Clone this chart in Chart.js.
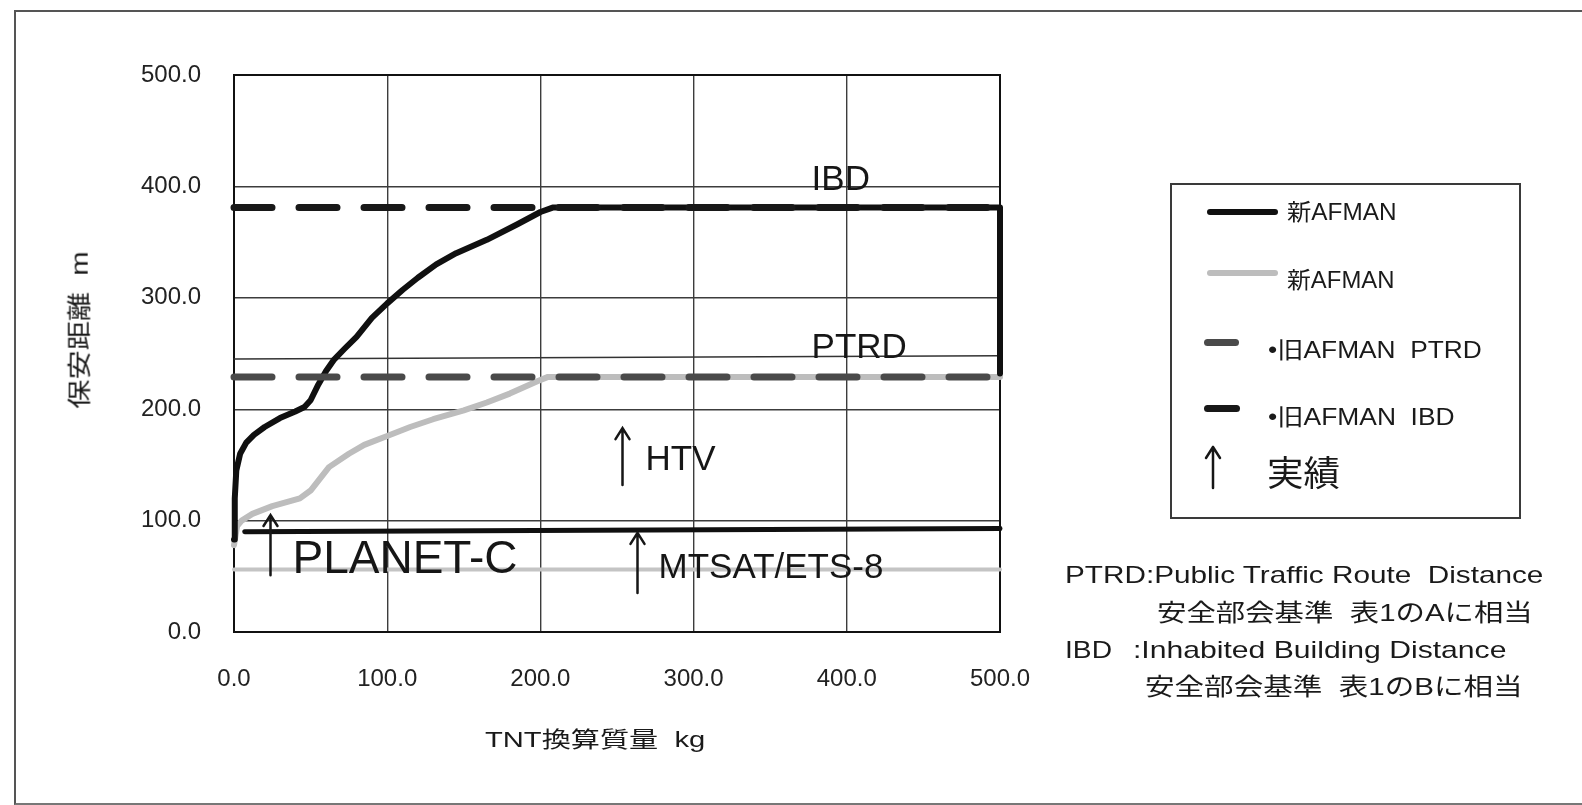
<!DOCTYPE html>
<html lang="ja">
<head>
<meta charset="utf-8">
<title>保安距離 と TNT換算質量</title>
<script src="https://cdn.jsdelivr.net/npm/chart.js@4.4.1/dist/chart.umd.min.js"></script>
<style>
  html, body { margin: 0; padding: 0; background: #ffffff; }
  #page {
    position: relative; width: 1582px; height: 805px; overflow: hidden;
    font-family: "Liberation Sans", "Noto Sans CJK JP", sans-serif; color: #1a1a1a;
  }
  #frame {
    position: absolute; left: 14px; top: 10px; width: 1600px; height: 791px;
    border-left: 2px solid #555; border-top: 2px solid #555; border-bottom: 2px solid #777;
  }
  #wrap { position: absolute; left: 0; top: 0; width: 1582px; height: 805px; }
  #legendBox {
    position: absolute; left: 1170px; top: 183px; width: 347px; height: 332px;
    border: 2px solid #3a3a3a;
  }
  #legendArrow { position: absolute; left: 1204px; top: 444px; }
  .t { position: absolute; white-space: pre; line-height: 1; transform-origin: 0 50%; }
  .swatch { position: absolute; }
</style>
</head>
<body>
<div id="page">
  <div id="frame"></div>
  <div id="wrap"><canvas id="chart"></canvas></div>
  <div id="legendBox"></div>
  <svg id="legendArrow" width="18" height="46" viewBox="0 0 18 46">
    <path d="M9 44 L9 3 M2 14 L9 3 L16 14" fill="none" stroke="#161616" stroke-width="2.5" stroke-linecap="round" stroke-linejoin="round"/>
  </svg>
  <div id="legend"></div>
  <div id="notes"></div>
  <div id="axisTitles"></div>
</div>
<script>
// ---- values ----------------------------------------------------------
const massTicks = [0, 100, 200, 300, 400, 500];
const distTicks = [0, 100, 200, 300, 400, 500];

// 新AFMAN, IBD curve (kg, m)
const newIbdMass = [0, 0.5, 1.5, 4, 8, 13, 20, 30, 40, 46, 50, 55, 60, 65, 72, 80, 90, 100, 110, 120, 132, 145, 165, 185, 200, 208, 500, 500];
const newIbdDist = [83, 120, 145, 160, 170, 177, 184, 192, 198, 202, 208, 222, 234, 244, 254, 265, 282, 295, 307, 318, 330, 340, 352, 366, 377, 381, 381, 232];

// 新AFMAN, PTRD curve (kg, m)
const newPtrdMass = [0, 2, 5, 12, 25, 43, 50, 62, 75, 85, 100, 115, 130, 150, 165, 180, 198, 205, 500];
const newPtrdDist = [78, 95, 100, 106, 113, 120, 127, 148, 160, 168, 176, 184, 191, 199, 206, 214, 225, 229, 229];

// 新AFMAN, lower levels
const newIbdLowMass = [7, 500];
const newIbdLowDist = [90, 93];
const newPtrdLowMass = [0, 500];
const newPtrdLowDist = [56, 56];

// 旧AFMAN levels
const oldPtrdMass = [0, 500];
const oldPtrdDist = [229, 229];
const oldIbdMass = [0, 500];
const oldIbdDist = [381, 381];

// thin reference level under the PTRD label
const refMass = [0, 500];
const refDist = [245, 248];

// 実績 (results), drawn as arrows
const actualNames = ['PLANET-C', 'HTV', 'MTSAT/ETS-8'];
const actualMass = [23.5, 253, 263];
const actualTop = [105, 183, 89];
const actualBase = [51, 132, 35];

// level captions
const zoneNames = ['IBD', 'PTRD'];
const zoneMass = [377, 377];
const zoneDist = [397, 246];

// legend texts
const legendNames = ['新AFMAN', '新AFMAN', '•旧AFMAN  PTRD', '•旧AFMAN  IBD'];
const resultName = '実績';

const noteLines = [
  'PTRD:Public Traffic Route  Distance',
  '安全部会基準  表1のAに相当',
  'IBD',
  ':Inhabited Building Distance',
  '安全部会基準  表1のBに相当'
];
const xTitle = 'TNT換算質量  kg';
const yTitle = '保安距離  m';

// ---- helpers -----------------------------------------------------------
const pts = (xs, ys) => xs.map((x, i) => ({ x: x, y: ys[i] }));
const FONT = '"Liberation Sans", "Noto Sans CJK JP", Arial, sans-serif';

const actualStyle = [
  { size: 46, dx: 22, dy: 58 },
  { size: 35, dx: 23, dy: 42 },
  { size: 35, dx: 21, dy: 45 }
];

const chartDecor = {
  id: 'chartDecor',
  beforeDatasetsDraw(chart) {
    const { ctx, chartArea: a } = chart;
    ctx.save();
    ctx.strokeStyle = '#111';
    ctx.lineWidth = 2;
    ctx.strokeRect(a.left, a.top, a.right - a.left, a.bottom - a.top);
    ctx.restore();
  },
  afterDatasetsDraw(chart) {
    const { ctx, scales: { x, y } } = chart;
    ctx.save();
    ctx.fillStyle = '#161616';
    ctx.strokeStyle = '#161616';
    // captions of the levels
    ctx.font = '35px ' + FONT;
    ctx.textBaseline = 'alphabetic';
    ctx.textAlign = 'left';
    zoneNames.forEach((n, i) => {
      ctx.fillText(n, x.getPixelForValue(zoneMass[i]), y.getPixelForValue(zoneDist[i]));
    });
    // result arrows
    actualNames.forEach((n, i) => {
      const px = Math.round(x.getPixelForValue(actualMass[i])) + 0.5;
      const top = y.getPixelForValue(actualTop[i]);
      const base = y.getPixelForValue(actualBase[i]);
      ctx.lineWidth = 2.5;
      ctx.lineCap = 'round';
      ctx.beginPath();
      ctx.moveTo(px, base);
      ctx.lineTo(px, top);
      ctx.moveTo(px - 7, top + 11);
      ctx.lineTo(px, top);
      ctx.lineTo(px + 7, top + 11);
      ctx.stroke();
      const st = actualStyle[i];
      ctx.font = st.size + 'px ' + FONT;
      ctx.fillText(n, px + st.dx, top + st.dy);
    });
    ctx.restore();
  }
};

// ---- chart -------------------------------------------------------------
const ctx = document.getElementById('chart');
const chart = new Chart(ctx, {
  type: 'line',
  data: {
    datasets: [
      { label: legendNames[2], data: pts(oldPtrdMass, oldPtrdDist), borderColor: '#4a4a4a', borderWidth: 7,
        borderDash: [38, 27], borderCapStyle: 'round', order: 1 },
      { label: legendNames[3], data: pts(oldIbdMass, oldIbdDist), borderColor: '#181818', borderWidth: 7,
        borderDash: [38, 27], borderCapStyle: 'round', order: 2 },
      { label: legendNames[0], data: pts(newIbdMass, newIbdDist), borderColor: '#101010', borderWidth: 6, order: 3 },
      { label: legendNames[1], data: pts(newPtrdMass, newPtrdDist), borderColor: '#bdbdbd', borderWidth: 6, order: 4 },
      { label: legendNames[0] + ' (low)', data: pts(newIbdLowMass, newIbdLowDist), borderColor: '#101010', borderWidth: 5, order: 5 },
      { label: legendNames[1] + ' (low)', data: pts(newPtrdLowMass, newPtrdLowDist), borderColor: '#c4c4c4', borderWidth: 4, order: 6 },
      { label: 'level', data: pts(refMass, refDist), borderColor: '#333', borderWidth: 1.5, order: 7 }
    ]
  },
  options: {
    responsive: true,
    maintainAspectRatio: false,
    animation: false,
    events: [],
    layout: { padding: { left: 0, top: 75, right: 582, bottom: 0 } },
    elements: {
      point: { radius: 0 },
      line: { tension: 0, borderJoinStyle: 'round', borderCapStyle: 'round' }
    },
    datasets: { line: { clip: 12 } },
    plugins: { legend: { display: false }, tooltip: { enabled: false } },
    scales: {
      x: {
        type: 'linear', min: massTicks[0], max: massTicks[massTicks.length - 1],
        afterBuildTicks: (s) => { s.ticks = massTicks.map(v => ({ value: v })); },
        afterFit: (s) => { s.height = 173; },
        grid: { color: '#3c3c3c', lineWidth: 1.4, drawTicks: false },
        border: { display: false },
        ticks: { padding: 33, color: '#222', font: { family: FONT, size: 24 },
                 callback: (v) => Number(v).toFixed(1), maxRotation: 0 }
      },
      y: {
        type: 'linear', min: distTicks[0], max: distTicks[distTicks.length - 1],
        afterBuildTicks: (s) => { s.ticks = distTicks.map(v => ({ value: v })); },
        afterFit: (s) => { s.width = 234; },
        grid: { color: '#3c3c3c', lineWidth: 1.4, drawTicks: false },
        border: { display: false },
        ticks: { padding: 33, color: '#222', font: { family: FONT, size: 24 },
                 callback: (v) => Number(v).toFixed(1) }
      }
    }
  },
  plugins: [chartDecor]
});

// ---- legend, notes and axis titles (HTML text) --------------------------
function addText(parent, text, left, cy, width, size, extra) {
  const el = document.createElement('div');
  el.className = 't';
  el.textContent = text;
  el.style.fontSize = size + 'px';
  el.style.left = left + 'px';
  el.style.top = cy + 'px';
  parent.appendChild(el);
  const natural = el.offsetWidth;
  const s = width ? width / natural : 1;
  el.style.transform = 'translateY(-50%) scaleX(' + s.toFixed(3) + ')';
  if (extra) extra(el, s, natural);
  return el;
}
function addSwatch(parent, left, cy, w, h, color, radius) {
  const el = document.createElement('div');
  el.className = 'swatch';
  el.style.left = left + 'px';
  el.style.top = (cy - h / 2) + 'px';
  el.style.width = w + 'px';
  el.style.height = h + 'px';
  el.style.background = color;
  el.style.borderRadius = radius + 'px';
  parent.appendChild(el);
}

const lg = document.getElementById('legend');
const ds = chart.data.datasets;
addSwatch(lg, 1207, 212, 71, 6, ds[2].borderColor, 3);
addText(lg, legendNames[0], 1287, 212, 110, 23);
addSwatch(lg, 1207, 273, 71, 6, ds[3].borderColor, 3);
addText(lg, legendNames[1], 1287, 280, 108, 23);
addSwatch(lg, 1204, 342, 35, 7, ds[0].borderColor, 3.5);
addText(lg, legendNames[2], 1268, 350, 214, 23);
addSwatch(lg, 1204, 408, 36, 7, ds[1].borderColor, 3.5);
addText(lg, legendNames[3], 1268, 417, 187, 23);
addText(lg, resultName, 1267, 473, 73, 35);

const nt = document.getElementById('notes');
addText(nt, noteLines[0], 1065, 575, 478, 24);
addText(nt, noteLines[1], 1157, 613, 376, 24);
addText(nt, noteLines[2], 1065, 650, 47, 24);
addText(nt, noteLines[3], 1133, 650, 374, 24);
addText(nt, noteLines[4], 1145, 687, 378, 24);

const at = document.getElementById('axisTitles');
addText(at, xTitle, 485, 740, 220, 22);
addText(at, yTitle, 0, 0, 157, 24, (el, s, natural) => {
  el.style.transformOrigin = '50% 50%';
  el.style.left = (79 - natural / 2) + 'px';
  el.style.top = (330 - el.offsetHeight / 2) + 'px';
  el.style.transform = 'rotate(-90deg) scaleX(' + s.toFixed(3) + ')';
});
</script>
</body>
</html>
